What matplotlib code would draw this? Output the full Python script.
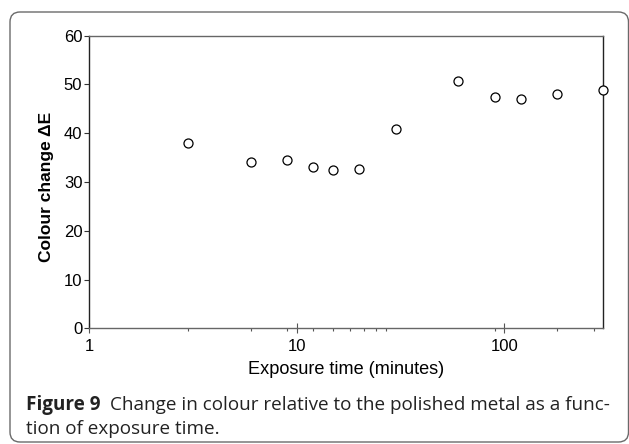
import matplotlib
matplotlib.use("Agg")
import matplotlib.pyplot as plt
from matplotlib.patches import FancyBboxPatch
from matplotlib.ticker import FixedLocator, NullFormatter

exposure_min = [3, 6, 9, 12, 15, 20, 30, 60, 90, 120, 180, 300]
delta_e = [38.0, 34.0, 34.6, 33.1, 32.5, 32.6, 40.8, 50.8, 47.5, 47.1, 48.0, 48.9]
x_major = [1, 10, 100]
x_major_labels = ["1", "10", "100"]
x_minor = [3, 6, 9, 12, 15, 18, 21, 24, 27, 90, 180, 270]
y_ticks = [0, 10, 20, 30, 40, 50, 60]

W, H = 629, 444
fig = plt.figure(figsize=(W / 100, H / 100), dpi=100)

# background / frame
bg = fig.add_axes([0, 0, 1, 1])
bg.set_xlim(0, W)
bg.set_ylim(H, 0)
bg.axis("off")
box = FancyBboxPatch((10, 12), 618.5, 430, boxstyle="round,pad=0,rounding_size=10",
                     fc="white", ec="#6a6a6a", lw=1.0)
bg.add_patch(box)

L, R, T, B = 89.3, 603.3, 35.7, 328.3
ax = fig.add_axes([L / W, 1 - B / H, (R - L) / W, (B - T) / H])
ax.set_facecolor("none")
ax.plot(exposure_min, delta_e, linestyle="none", marker="o", ms=6.5,
        mfc="white", mec="black", mew=0.9, clip_on=False, zorder=5)
ax.set_xscale("log")
ax.set_xlim(1, 300)
ax.set_ylim(0, 60)

ax.xaxis.set_major_locator(FixedLocator(x_major))
ax.set_xticklabels(x_major_labels)
ax.xaxis.set_minor_locator(FixedLocator(x_minor))
ax.xaxis.set_minor_formatter(NullFormatter())
ax.set_yticks(y_ticks)

tf = "Liberation Sans"
for lab in ax.get_xticklabels() + ax.get_yticklabels():
    lab.set_fontfamily(tf)
    lab.set_fontsize(12)

ax.tick_params(axis="x", which="major", direction="inout", length=7, width=0.8,
               color="#555555", pad=4)
ax.tick_params(axis="x", which="minor", direction="out", length=2.5, width=0.8,
               color="#555555")
ax.tick_params(axis="y", which="major", direction="out", length=3.5, width=0.8,
               color="#333333", pad=1.5)
ax.tick_params(axis="y", which="minor", left=False)

for s in ["top", "bottom"]:
    ax.spines[s].set_color("#666666")
    ax.spines[s].set_linewidth(1.0)
for s in ["left", "right"]:
    ax.spines[s].set_color("#222222")
    ax.spines[s].set_linewidth(1.0)

ax.set_xlabel("Exposure time (minutes)", fontfamily=tf, fontsize=13.1)
ax.xaxis.set_label_coords(0.5, (B - 361) / (B - T))
ax.set_ylabel("Colour change \u0394E", fontfamily=tf, fontsize=12.5, fontweight="bold")
ax.yaxis.set_label_coords((54 - L) / (R - L), (B - 187) / (B - T))

# caption
cf = "Open Sans"
cs = 13.6
col = "#222222"
t1 = bg.text(26, 410, "Figure 9", fontfamily=cf, fontweight="bold", fontsize=cs,
             va="baseline", ha="left", color=col)
fig.canvas.draw()
r = fig.canvas.get_renderer()
bb = t1.get_window_extent(renderer=r)
bg.text(bb.x1 + 9, 410, "Change in colour relative to the polished metal as a func-",
        fontfamily=cf, fontsize=cs, va="baseline", ha="left", color=col)
bg.text(26, 434, "tion of exposure time.", fontfamily=cf, fontsize=cs,
        va="baseline", ha="left", color=col)

fig.savefig("out.png", dpi=100)
